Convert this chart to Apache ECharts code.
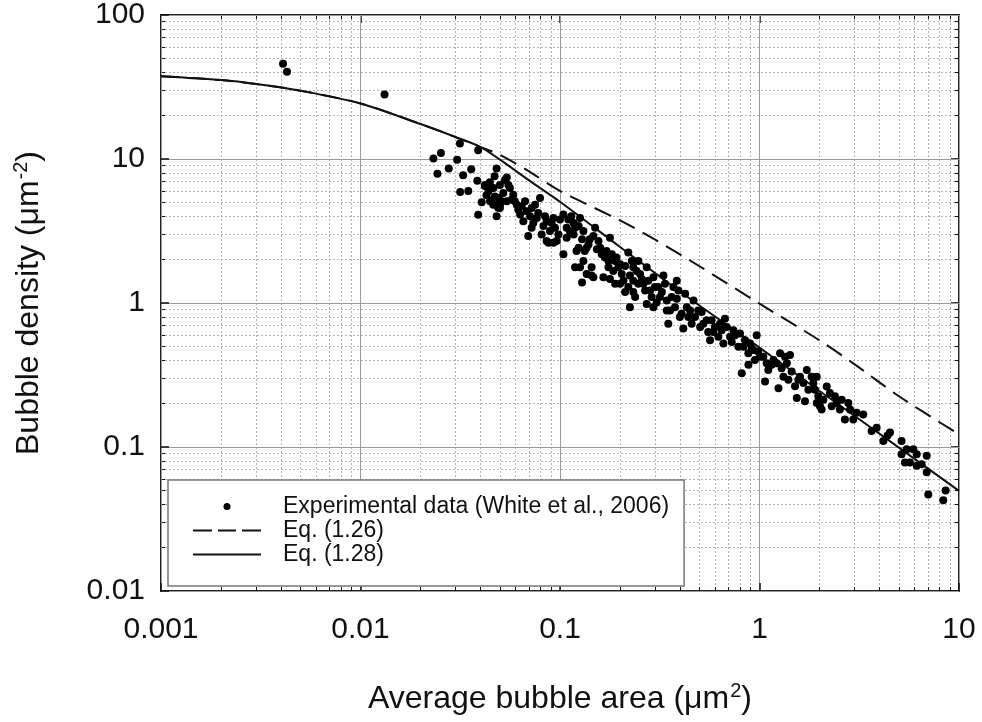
<!DOCTYPE html>
<html>
<head>
<meta charset="utf-8">
<script src="https://cdn.jsdelivr.net/npm/echarts@6/dist/echarts.min.js"></script>
<style>
html,body{margin:0;padding:0;background:#fff;}
#chart{width:982px;height:722px;}
</style>
</head>
<body>
<div id="chart"></div>
<script>
// Experimental data (White et al., 2006): average bubble area (um^2) and bubble density (um^-2)
var expArea = [
  0.00409,0.00428,0.0132,0.0315,0.0253,0.0232,0.0389,0.0305,0.0243,0.0277,0.0359,0.0327,0.0316,0.0347,0.0389,0.0385,0.0420,0.0481,0.0481,0.0464,0.0428,0.049,0.050,
  0.0541,0.0500,0.0500,0.0541,0.0520,0.0583,0.0607,0.0631,0.0561,0.0668,0.0655,0.0693,0.0721,0.0750,0.0794,0.0764,0.0809,0.0857,0.0875,0.0927,0.0962,0.104,0.104,0.108,
  0.117,0.117,0.126,0.121,0.126,0.131,0.129,0.136,0.144,0.147,0.147,0.150,0.159,0.165,0.171,0.175,0.178,0.185,0.189,0.192,0.200,0.208,0.212,0.220,0.224,0.233,0.233,0.238,
  0.247,0.252,0.262,0.272,0.272,0.283,0.294,0.294,0.311,0.317,0.330,0.343,0.349,0.356,0.370,0.385,0.385,0.407,0.415,0.424,0.449,0.467,0.504,0.513,0.543,0.565,0.587,
  0.634,0.659,0.671,0.712,0.740,0.798,0.815,0.830,0.897,0.880,0.931,0.968,1.007,1.066,1.086,1.175,1.245,1.268,1.318,1.371,1.422,1.507,1.538,1.596,1.690,1.726,1.862,
  1.936,1.972,2.01,2.049,2.089,2.173,2.301,2.388,2.529,2.679,2.786,2.951,3.311,3.648,3.864,4.178,4.385,5.152,5.152,5.358,5.675,5.902,6.138,6.501,6.887,6.887,7.015,
  8.337,8.570,
  0.0421,0.0438,0.0454,0.0472,0.0491,0.0510,0.0530,0.0551,0.0500,0.0463,0.0446,
  0.0573,0.0594,0.0618,0.0643,0.0681,0.0708,0.0735,0.0778,0.0826,0.0841,0.0891,0.0908,0.0944,0.0982,0.100,0.0721,0.0857,0.0927,0.108,0.112,
  0.110,0.114,0.119,0.124,0.129,0.133,0.139,0.141,0.153,0.156,0.124,0.131,0.119,0.136,0.144,
  0.162,0.168,0.175,0.182,0.189,0.196,0.204,0.212,0.224,0.229,0.242,0.247,0.200,0.178,0.220,0.233,
  0.257,0.267,0.277,0.288,0.299,0.305,0.324,0.336,0.343,0.363,0.377,0.392,0.399,0.432,0.440,0.457,
  0.475,0.493,0.523,0.553,0.575,0.598,0.622,0.646,0.684,0.726,0.754,0.784,0.846,0.879,0.914,
  0.949,0.986,1.045,1.107,1.151,1.219,1.291,1.343,1.396,1.449,1.567,1.660,1.758,1.825,1.897,1.936,
  2.254,2.438,2.582,2.844,3.069,4.51,5.47,6.138,
  0.0445,0.0470,0.0455,0.0405
];
var expDensity = [
  45.8,40.3,28.0,12.8,11.0,10.1,11.5,9.9,7.9,8.6,8.5,7.7,5.9,6.0,4.1,7.05,6.5,8.6,4.0,6.28,5.6,4.58,5.08,
  7.43,6.61,4.82,5.08,5.80,5.65,4.82,4.11,6.28,5.08,3.70,2.92,3.33,4.82,5.36,3.90,2.99,3.70,2.62,3.90,2.69,4.11,2.18,3.33,
  3.60,2.99,3.90,2.30,1.77,3.16,1.39,2.42,1.77,2.92,1.51,3.33,2.42,1.51,2.30,1.96,2.84,1.67,1.36,2.07,1.86,1.43,1.19,2.24,0.936,1.77,1.43,1.10,
  1.96,1.59,1.36,1.77,0.986,1.22,1.51,0.936,1.29,1.10,1.55,1.04,0.719,0.887,1.29,1.43,1.07,0.841,0.664,1.16,0.887,1.04,0.682,0.865,0.759,0.552,0.630,
  0.719,0.524,0.778,0.582,0.647,0.614,0.325,0.497,0.524,0.372,0.471,0.597,0.424,0.285,0.381,0.402,0.256,0.447,0.308,0.381,0.436,0.264,0.219,0.308,0.208,0.343,0.277,
  0.308,0.225,0.192,0.182,0.213,0.263,0.192,0.225,0.182,0.155,0.202,0.155,0.168,0.129,0.136,0.110,0.120,0.110,0.0891,0.0781,0.0781,0.0964,0.0891,0.0760,0.0868,0.0667,0.0468,
  0.0426,0.0498,
  6.61,5.96,6.34,5.50,5.36,5.08,7.16,6.61,4.57,4.82,5.08,
  5.21,5.08,4.45,4.69,4.33,4.00,3.60,4.22,3.42,4.00,3.16,3.60,3.33,2.99,3.80,4.57,2.69,2.62,2.84,3.16,
  3.80,4.00,3.33,3.42,2.77,2.30,2.55,2.77,2.36,2.69,2.42,1.96,1.77,1.59,1.55,
  2.18,2.07,1.77,2.18,1.96,1.77,1.59,1.81,1.55,1.96,1.67,1.36,1.36,1.47,1.29,1.19,
  1.47,1.22,1.43,1.10,1.29,1.01,1.19,1.36,0.887,1.10,0.936,1.22,0.800,0.936,0.800,0.719,
  0.800,0.887,0.719,0.630,0.759,0.682,0.582,0.647,0.682,0.537,0.597,0.497,0.552,0.447,0.484,
  0.402,0.459,0.424,0.343,0.372,0.381,0.352,0.424,0.293,0.334,0.293,0.278,0.250,0.308,0.250,0.202,
  0.237,0.202,0.213,0.182,0.173,0.126,0.0964,0.0741,
  6.9,7.6,5.2,5.0
];

// Eq. (1.26) - dashed
var eq126Area    = [0.001,0.002,0.003,0.005,0.01,0.02,0.03,0.04,0.05,0.07,0.1,0.2,0.3,0.5,1,2,3,5,10];
var eq126Density = [37.5,35.3,33.2,29.8,24.3,17.5,14.2,12.1,10.7,8.2,6.0,3.75,2.75,1.8,0.99,0.55,0.375,0.225,0.1225];

// Eq. (1.28) - solid
var eq128Area    = [0.001,0.002,0.003,0.005,0.01,0.02,0.03,0.04,0.05,0.07,0.1,0.2,0.5,1,2,5,10];
var eq128Density = [37.5,35.3,33.2,29.8,24.3,17.5,14.2,12.1,9.9,7.1,5.05,2.45,0.96,0.49,0.245,0.099,0.0496];

// Axis ticks
var xMajorTicks = [0.001,0.01,0.1,1,10];
var xMajorLabels = ['0.001','0.01','0.1','1','10'];
var yMajorTicks = [0.01,0.1,1,10,100];
var yMajorLabels = ['0.01','0.1','1','10','100'];
var xMinorTicks = [0.002,0.003,0.004,0.005,0.006,0.007,0.008,0.009,
                   0.02,0.03,0.04,0.05,0.06,0.07,0.08,0.09,
                   0.2,0.3,0.4,0.5,0.6,0.7,0.8,0.9,
                   2,3,4,5,6,7,8,9];
var yMinorTicks = [0.02,0.03,0.04,0.05,0.06,0.07,0.08,0.09,
                   0.2,0.3,0.4,0.5,0.6,0.7,0.8,0.9,
                   2,3,4,5,6,7,8,9,
                   20,30,40,50,60,70,80,90];

var legendNames = ['Experimental data (White et al., 2006)', 'Eq. (1.26)', 'Eq. (1.28)'];

function zip(a, b) { return a.map(function (v, i) { return [v, b[i]]; }); }

var FONT = 'Liberation Sans';

function baseAxis(type) {
  return {
    type: 'log', logBase: 10,
    min: type === 'x' ? 0.001 : 0.01,
    max: type === 'x' ? 10 : 100,
    axisLine: { show: false },
    axisLabel: { show: false },
    axisTick: { show: false },
    splitLine: { show: false },
    minorTick: { show: false },
    minorSplitLine: { show: false }
  };
}

function makeAxes(type) {
  var pos1 = type === 'x' ? 'bottom' : 'left';
  var pos2 = type === 'x' ? 'top' : 'right';
  var majors = type === 'x' ? xMajorTicks : yMajorTicks;
  var labels = type === 'x' ? xMajorLabels : yMajorLabels;
  var minors = type === 'x' ? xMinorTicks : yMinorTicks;
  var main = baseAxis(type);
  main.position = pos1;
  main.axisLabel = {
    show: true, customValues: majors, fontFamily: FONT, fontSize: 30, color: '#111',
    margin: type === 'x' ? 24 : 16,
    formatter: function (v) {
      for (var i = 0; i < majors.length; i++) {
        if (Math.abs(Math.log10(v) - Math.log10(majors[i])) < 1e-6) return labels[i];
      }
      return '';
    }
  };
  main.axisTick = { show: true, inside: true, length: 8, customValues: majors, lineStyle: { color: '#111', width: 1.5 } };
  main.splitLine = { show: true, lineStyle: { color: '#9a9a9a', width: 1, type: 'solid' } };
  if (type === 'x') {
    main.name = 'Average bubble area (μm{sup|2})';
    main.nameLocation = 'middle';
    main.nameGap = 90;
  } else {
    main.name = 'Bubble density (μm{sup|-2})';
    main.nameLocation = 'middle';
    main.nameGap = 114;
  }
  main.nameTextStyle = {
    fontFamily: FONT, fontSize: 32, color: '#111', lineHeight: 36,
    rich: { sup: { fontFamily: FONT, fontSize: 20, color: '#111', verticalAlign: 'top', lineHeight: 36, padding: [0, 0, 6, 1] } }
  };
  main.z = 3;

  var minor1 = baseAxis(type);
  minor1.position = pos1;
  minor1.axisTick = { show: true, inside: true, length: 4, customValues: minors, lineStyle: { color: '#111', width: 1 } };
  minor1.splitLine = { show: true, lineStyle: { color: '#b4b4b4', width: 1, type: [2, 2] } };

  var major2 = baseAxis(type);
  major2.position = pos2;
  major2.axisTick = { show: true, inside: true, length: 8, customValues: majors, lineStyle: { color: '#111', width: 1.5 } };

  var minor2 = baseAxis(type);
  minor2.position = pos2;
  minor2.axisTick = { show: true, inside: true, length: 4, customValues: minors, lineStyle: { color: '#111', width: 1 } };

  return [main, minor1, major2, minor2];
}

var chart = echarts.init(document.getElementById('chart'), null, { renderer: 'canvas' });
var option = {
  animation: false,
  backgroundColor: '#fff',
  textStyle: { fontFamily: FONT },
  grid: {
    left: 161, right: 23, top: 12, bottom: 129,
    show: true, borderColor: '#222', borderWidth: 2, backgroundColor: 'transparent'
  },
  xAxis: makeAxes('x'),
  yAxis: makeAxes('y'),
  legend: {
    orient: 'vertical',
    left: 168, top: 480,
    width: 515,
    backgroundColor: '#fff',
    borderColor: '#777', borderWidth: 1.5, borderRadius: 0,
    padding: [15, 15, 20, 25],
    itemWidth: 68, itemHeight: 14, itemGap: 1,
    textStyle: { fontFamily: FONT, fontSize: 23, color: '#111', padding: [0, 0, 0, 17] },
    data: [
      { name: legendNames[0], icon: 'path://M0,0M68,14M37.5,7A3.5,3.5 0 1,0 30.5,7A3.5,3.5 0 1,0 37.5,7Z' },
      { name: legendNames[1], icon: 'path://M0,0M68,14M0,6L19,6L19,8L0,8ZM25,6L43,6L43,8L25,8ZM49,6L68,6L68,8L49,8Z' },
      { name: legendNames[2], icon: 'path://M0,0M68,14M0,6L68,6L68,8L0,8Z' }
    ],
    selectedMode: false,
    z: 10
  },
  series: [
    {
      name: legendNames[0],
      type: 'scatter',
      data: zip(expArea, expDensity),
      symbol: 'circle',
      symbolSize: 8,
      itemStyle: { color: '#000', opacity: 1 },
      z: 5
    },
    {
      name: legendNames[1],
      type: 'line',
      data: zip(eq126Area, eq126Density),
      showSymbol: false, symbol: 'none',
      smooth: 0.3,
      lineStyle: { color: '#111', width: 2, type: [18, 9] },
      itemStyle: { color: '#111' },
      z: 4
    },
    {
      name: legendNames[2],
      type: 'line',
      data: zip(eq128Area, eq128Density),
      showSymbol: false, symbol: 'none',
      smooth: 0.3,
      lineStyle: { color: '#111', width: 2, type: 'solid' },
      itemStyle: { color: '#111' },
      z: 4
    }
  ]
};
chart.setOption(option);
</script>
</body>
</html>
